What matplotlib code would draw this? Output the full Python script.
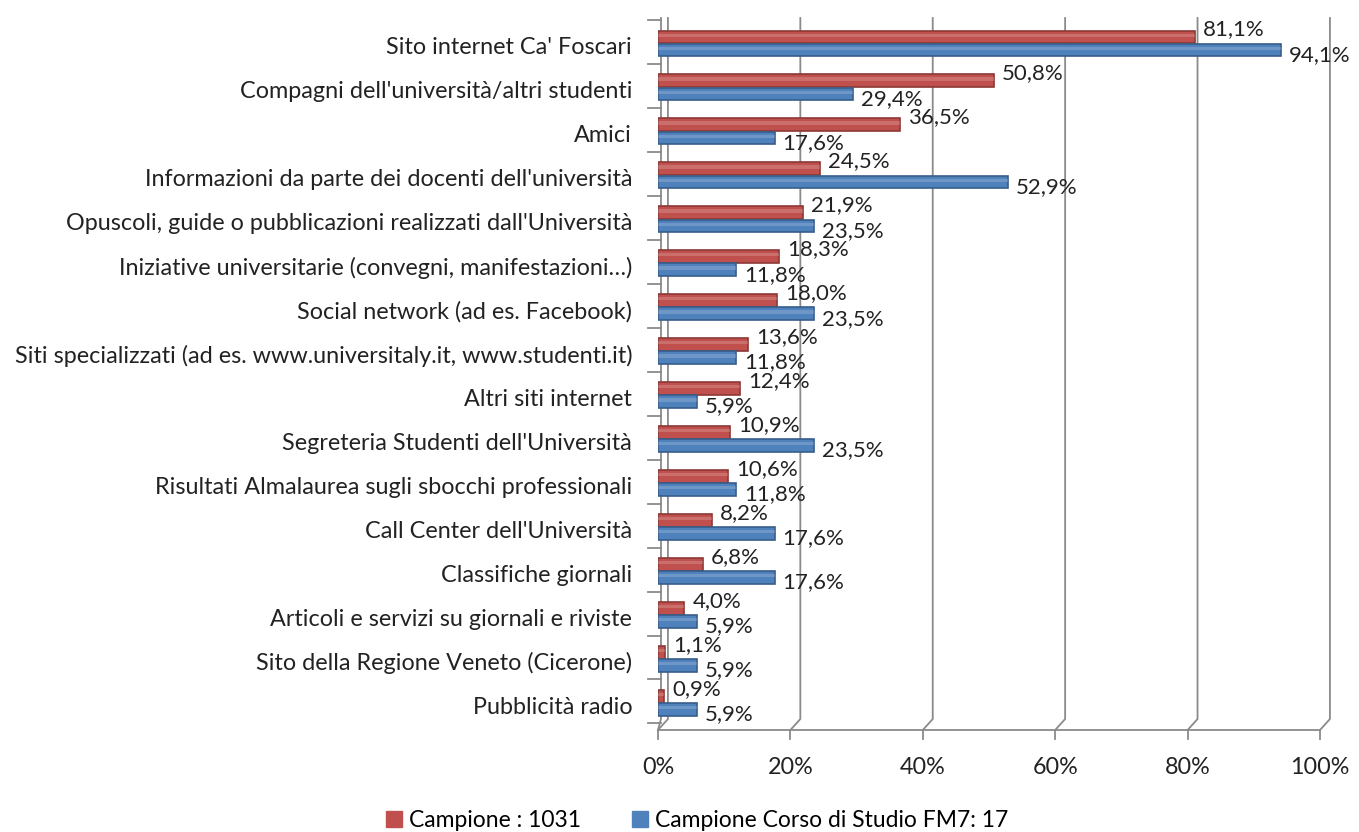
import matplotlib.pyplot as plt
from matplotlib.patches import Patch
import numpy as np

plt.rcParams['font.family'] = ['Lato', 'DejaVu Sans']

categories = [
    "Sito internet Ca' Foscari",
    "Compagni dell'università/altri studenti",
    "Amici",
    "Informazioni da parte dei docenti dell'università",
    "Opuscoli, guide o pubblicazioni realizzati dall'Università",
    "Iniziative universitarie (convegni, manifestazioni…)",
    "Social network (ad es. Facebook)",
    "Siti specializzati (ad es. www.universitaly.it, www.studenti.it)",
    "Altri siti internet",
    "Segreteria Studenti dell'Università",
    "Risultati Almalaurea sugli sbocchi professionali",
    "Call Center dell'Università",
    "Classifiche giornali",
    "Articoli e servizi su giornali e riviste",
    "Sito della Regione Veneto (Cicerone)",
    "Pubblicità radio",
]
campione = [81.1, 50.8, 36.5, 24.5, 21.9, 18.3, 18.0, 13.6, 12.4, 10.9, 10.6, 8.2, 6.8, 4.0, 1.1, 0.9]
corso = [94.1, 29.4, 17.6, 52.9, 23.5, 11.8, 23.5, 11.8, 5.9, 23.5, 11.8, 17.6, 17.6, 5.9, 5.9, 5.9]
series_names = ["Campione : 1031", "Campione Corso di Studio FM7: 17"]
ticks = [0, 20, 40, 60, 80, 100]

RED, RED_EDGE = '#C0504D', '#8C3836'
BLUE, BLUE_EDGE = '#4F81BD', '#385D8A'
GRID = '#8a8a8a'
TXT = '#222222'
FS = 16.8     # category labels, ticks, legend
FS_VAL = 16   # value labels

fig = plt.figure(figsize=(13.59, 8.32), dpi=100)
ax = fig.add_axes([658 / 1359, 1 - 730 / 832, (1320 - 658) / 1359, (730 - 18) / 832])
ax.set_xlim(0, 100)
ax.set_ylim(15.6, -0.6)
ax.axis('off')

y = np.arange(len(categories))
depth = 1.5    # back wall offset in % units
floor = 15.35  # where back wall meets floor

# back wall gridlines + slant to front
for v in ticks:
    ax.plot([v + depth, v + depth, v], [-0.6, floor, 15.6], color=GRID, lw=1.3, clip_on=False, zorder=1)
# left wall and front axis
ax.plot([depth * 0.3, depth * 0.3, 0], [-0.6, floor, 15.6], color=GRID, lw=1.3, clip_on=False, zorder=1)
ax.plot([0, 100], [15.6, 15.6], color=GRID, lw=1.3, clip_on=False, zorder=1)
for v in ticks:
    ax.plot([v, v], [15.6, 15.8], color=GRID, lw=1.3, clip_on=False)
    ax.text(v, 16.45, f'{v}%', ha='center', va='center', fontsize=FS, color=TXT)
for b in np.arange(-0.55, 15.5, 1.0):
    ax.plot([-1.5, 0.4], [b, b], color=GRID, lw=1.3, clip_on=False)

h = 0.29
ax.barh(y - 0.17, campione, height=h, color=RED, edgecolor=RED_EDGE, lw=1.2, zorder=3)
ax.barh(y + 0.13, corso, height=h, color=BLUE, edgecolor=BLUE_EDGE, lw=1.2, zorder=3)
# cylinder-like highlight
ax.barh(y - 0.21, campione, height=h * 0.25, color='white', alpha=0.18, lw=0, zorder=4)
ax.barh(y + 0.09, corso, height=h * 0.25, color='white', alpha=0.18, lw=0, zorder=4)

for i in range(len(categories)):
    ax.text(campione[i] + 1.2, i - 0.34, f'{campione[i]:.1f}%'.replace('.', ','),
            ha='left', va='center', fontsize=FS_VAL, color=TXT, zorder=5)
    ax.text(corso[i] + 1.2, i + 0.24, f'{corso[i]:.1f}%'.replace('.', ','),
            ha='left', va='center', fontsize=FS_VAL, color=TXT, zorder=5)
    ax.text(-3.9, i + 0.08, categories[i], ha='right', va='center', fontsize=FS, color=TXT)

handles = [Patch(facecolor=RED, edgecolor=RED), Patch(facecolor=BLUE, edgecolor=BLUE)]
fig.legend(handles, series_names, loc='center', bbox_to_anchor=(0.513, 0.014), ncol=2,
           frameon=False, fontsize=16.5, handlelength=0.7, handleheight=0.7, columnspacing=2.2,
           handletextpad=0.3)

fig.savefig('out.png', dpi=100)
